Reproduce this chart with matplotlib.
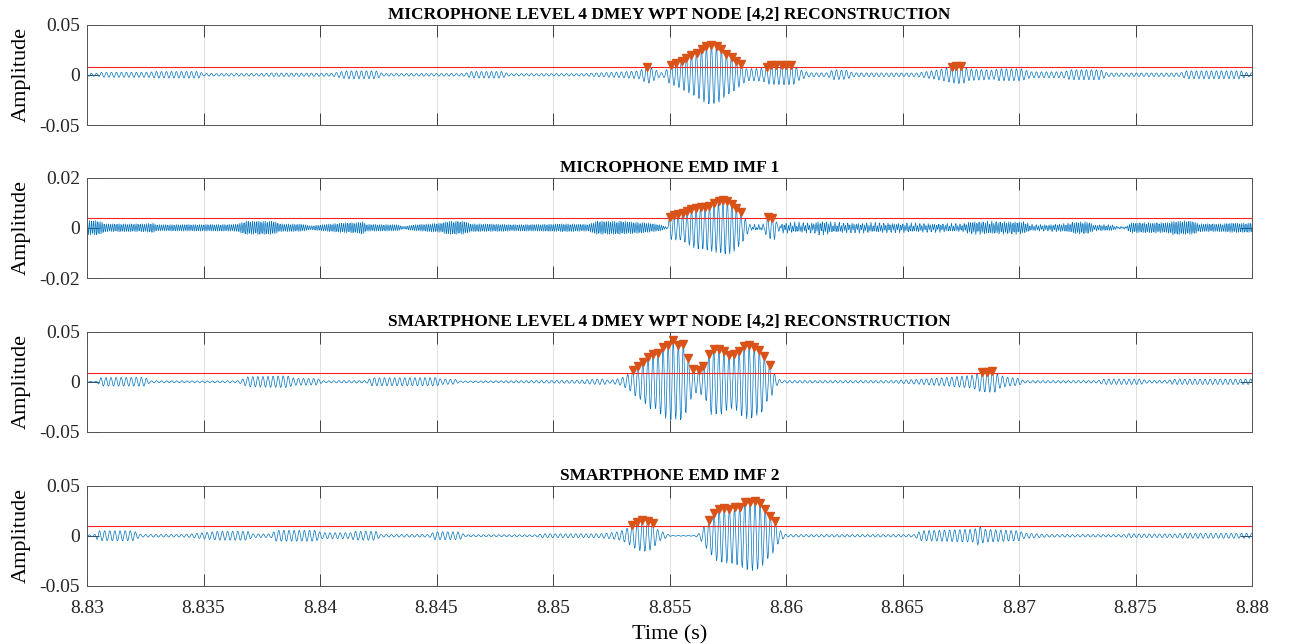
import numpy as np
import matplotlib
matplotlib.use("Agg")
import matplotlib.pyplot as plt

plt.rcParams["font.family"] = ["Liberation Serif", "DejaVu Serif"]

# ---------------- data ----------------
fs = 48000
t_start, t_end = 8.83, 8.88
x_ticks = [8.83, 8.835, 8.84, 8.845, 8.85, 8.855, 8.86, 8.865, 8.87, 8.875, 8.88]
x_tick_labels = ["8.83", "8.835", "8.84", "8.845", "8.85", "8.855", "8.86",
                 "8.865", "8.87", "8.875", "8.88"]

titles = ["MICROPHONE LEVEL 4 DMEY WPT NODE [4,2] RECONSTRUCTION",
          "MICROPHONE EMD IMF 1",
          "SMARTPHONE LEVEL 4 DMEY WPT NODE [4,2] RECONSTRUCTION",
          "SMARTPHONE EMD IMF 2"]
y_limits = [0.05, 0.02, 0.05, 0.05]
y_tick_labels = [["-0.05", "0", "0.05"], ["-0.02", "0", "0.02"],
                 ["-0.05", "0", "0.05"], ["-0.05", "0", "0.05"]]
thresholds = [0.0077, 0.0039, 0.0087, 0.0097]
carrier_hz = [4660, 5200, 4600, 4550]
crest_ref_t = [8.8568, 8.8571, 8.85516, 8.85845]

# Panel 1: microphone WPT reconstruction envelope (time s, amplitude)
mic_wpt_env_t = [8.8300, 8.8305, 8.8306, 8.8327, 8.8329, 8.8348, 8.8350, 8.8374,
                 8.8380, 8.8398, 8.8405, 8.8411, 8.8424, 8.8427, 8.8462, 8.8465,
                 8.8478, 8.8481, 8.8513, 8.8520, 8.8530, 8.8537, 8.85407, 8.8544,
                 8.8546, 8.8548, 8.85499, 8.85538, 8.85574, 8.85617, 8.8565,
                 8.8568, 8.8571, 8.8574, 8.8577, 8.8579, 8.8581, 8.8583, 8.8590,
                 8.8593, 8.8603, 8.8606, 8.8610, 8.8618, 8.8620, 8.8626, 8.8629,
                 8.8656, 8.8664, 8.8673, 8.8676, 8.8678, 8.8689, 8.8691, 8.8701,
                 8.8705, 8.8719, 8.8722, 8.8735, 8.8738, 8.8769, 8.8772, 8.8795,
                 8.8798, 8.8800]
mic_wpt_env_a = [0.0015, 0.0015, 0.0025, 0.0026, 0.0033, 0.0033, 0.0013, 0.0013,
                 0.0018, 0.0016, 0.0014, 0.0040, 0.0040, 0.0013, 0.0013, 0.0033,
                 0.0033, 0.0012, 0.0012, 0.0020, 0.0030, 0.0040, 0.0092, 0.0050,
                 0.0020, 0.0030, 0.0088, 0.0128, 0.0170, 0.0226, 0.0275,
                 0.0305, 0.0280, 0.0215, 0.0176, 0.0137, 0.0104, 0.0060, 0.0065,
                 0.0098, 0.0102, 0.0050, 0.0020, 0.0020, 0.0050, 0.0045, 0.0020,
                 0.0018, 0.0045, 0.0088, 0.0090, 0.0060, 0.0045, 0.0060, 0.0060,
                 0.0030, 0.0030, 0.0050, 0.0050, 0.0018, 0.0018, 0.0040, 0.0040,
                 0.0020, 0.0020]

# Panel 2: microphone EMD IMF 1, burst envelope and dense background envelope
mic_imf_burst_t = [8.8300, 8.8549, 8.8550, 8.8552, 8.8555, 8.8558, 8.8561, 8.8565,
                   8.8568, 8.8571, 8.8574, 8.8577, 8.8579, 8.8581, 8.8583, 8.8585,
                   8.8590, 8.8592, 8.8595, 8.8597, 8.8800]
mic_imf_burst_a = [0.0, 0.0, 0.0045, 0.0050, 0.0052, 0.0068, 0.0082, 0.0086,
                   0.0095, 0.0104, 0.0108, 0.0100, 0.0079, 0.0062, 0.0030, 0.0006,
                   0.0006, 0.0040, 0.0043, 0.0008, 0.0]
mic_imf_bg_hz = 11000
mic_imf_bg_t = [8.8300, 8.8305, 8.8308, 8.8325, 8.8328, 8.8330, 8.8364, 8.8368,
                8.8380, 8.8383, 8.8392, 8.8396, 8.8400, 8.8410, 8.8416, 8.8418,
                8.8420, 8.8433, 8.8436, 8.8440, 8.8452, 8.8455, 8.8462, 8.8465,
                8.8478, 8.8482, 8.8494, 8.8505, 8.8515, 8.8519, 8.8530, 8.8540,
                8.8546, 8.8548, 8.8549, 8.8584, 8.8586, 8.8591, 8.8597, 8.8599,
                8.8611, 8.8614, 8.8618, 8.8620, 8.8639, 8.8676, 8.8679, 8.8702,
                8.8705, 8.8712, 8.8721, 8.8724, 8.8730, 8.8732, 8.8740, 8.8742,
                8.8746, 8.8748, 8.8764, 8.8766, 8.8775, 8.8777, 8.8788, 8.8790,
                8.8800]
mic_imf_bg_a = [0.0029, 0.0029, 0.0016, 0.0016, 0.0020, 0.0013, 0.0014, 0.0027,
                0.0027, 0.0016, 0.0015, 0.0008, 0.0012, 0.0020, 0.0021, 0.0027,
                0.0014, 0.0013, 0.0005, 0.0012, 0.0019, 0.0027, 0.0026, 0.0016,
                0.0015, 0.0013, 0.0014, 0.0016, 0.0014, 0.0027, 0.0026, 0.0020,
                0.0013, 0.0006, 0.0003, 0.0003, 0.0008, 0.0007, 0.0005, 0.0016,
                0.0016, 0.0023, 0.0022, 0.0016, 0.0016, 0.0013, 0.0023, 0.0023,
                0.0011, 0.0011, 0.0016, 0.0023, 0.0023, 0.0011, 0.0011, 0.0004,
                0.0004, 0.0020, 0.0020, 0.0027, 0.0027, 0.0016, 0.0016, 0.0019,
                0.0019]

# Panel 3: smartphone WPT reconstruction envelope
phone_wpt_env_t = [8.8300, 8.8304, 8.8306, 8.8325, 8.8327, 8.8349, 8.8365, 8.8369,
                   8.8386, 8.8389, 8.8399, 8.8401, 8.8420, 8.8422, 8.8450, 8.8452,
                   8.8458, 8.8460, 8.8479, 8.8510, 8.8519, 8.8522, 8.8524, 8.8529,
                   8.8531, 8.85330, 8.85352, 8.85370, 8.85395, 8.85416, 8.8544,
                   8.8547, 8.8550, 8.85516, 8.8553, 8.85559, 8.8558, 8.8560,
                   8.8562, 8.8564, 8.8566, 8.85674, 8.8570, 8.85717, 8.8574,
                   8.85767, 8.8579, 8.8581, 8.8583, 8.85853, 8.8588, 8.8590,
                   8.8592, 8.85939, 8.8596, 8.8598, 8.8646, 8.8650, 8.8657,
                   8.8670, 8.8680, 8.8683, 8.86847, 8.86874, 8.86898, 8.8691,
                   8.8695, 8.8700, 8.8702, 8.8734, 8.8736, 8.8752, 8.8755,
                   8.8764, 8.8766, 8.8800]
phone_wpt_env_a = [0.0003, 0.0005, 0.0043, 0.0045, 0.0010, 0.0008, 0.0010, 0.0050,
                   0.0060, 0.0035, 0.0033, 0.0010, 0.0012, 0.0040, 0.0042, 0.0027,
                   0.0025, 0.0007, 0.0010, 0.0015, 0.0027, 0.0028, 0.0013, 0.0035,
                   0.0060, 0.0090, 0.0142, 0.0168, 0.0218, 0.0275, 0.0270,
                   0.0350, 0.0380, 0.0428, 0.0360, 0.0400, 0.0240, 0.0133,
                   0.0105, 0.0140, 0.0200, 0.0327, 0.0328, 0.0335, 0.0290,
                   0.0270, 0.0290, 0.0350, 0.0368, 0.0370, 0.0328, 0.0300,
                   0.0190, 0.0140, 0.0040, 0.0012, 0.0012, 0.0018, 0.0025,
                   0.0045, 0.0065, 0.0095, 0.0104, 0.0105, 0.0104, 0.0070,
                   0.0045, 0.0035, 0.0012, 0.0012, 0.0027, 0.0027, 0.0013,
                   0.0014, 0.0027, 0.0027]

# Panel 4: smartphone EMD IMF 2 envelope
phone_imf_env_t = [8.8300, 8.8303, 8.8305, 8.8320, 8.8323, 8.8340, 8.8343, 8.8356,
                   8.8369, 8.8371, 8.8379, 8.8381, 8.8398, 8.8401, 8.8413, 8.8415,
                   8.8424, 8.8426, 8.8447, 8.8449, 8.8460, 8.8462, 8.8493, 8.8495,
                   8.8505, 8.8520, 8.8528, 8.8531, 8.85352, 8.8537, 8.85395,
                   8.8541, 8.8543, 8.8545, 8.8548, 8.8550, 8.8561, 8.8563,
                   8.85645, 8.85667, 8.8569, 8.8571, 8.8573, 8.8576, 8.85781,
                   8.8580, 8.8582, 8.85845, 8.8587, 8.8589, 8.8591, 8.8593,
                   8.85953, 8.8597, 8.8600, 8.8655, 8.8658, 8.8681, 8.86828,
                   8.8685, 8.8700, 8.8702, 8.8712, 8.8745, 8.8747, 8.8750,
                   8.8767, 8.8770, 8.8800]
phone_imf_env_a = [0.0008, 0.0010, 0.0050, 0.0050, 0.0013, 0.0013, 0.0015, 0.0045,
                   0.0045, 0.0018, 0.0018, 0.0055, 0.0055, 0.0030, 0.0030, 0.0045,
                   0.0045, 0.0013, 0.0013, 0.0040, 0.0040, 0.0010, 0.0010, 0.0020,
                   0.0020, 0.0020, 0.0040, 0.0065, 0.0127, 0.0150, 0.0157,
                   0.0155, 0.0127, 0.0060, 0.0030, 0.0005, 0.0005, 0.0030,
                   0.0090, 0.0152, 0.0227, 0.0267, 0.0273, 0.0275, 0.0283,
                   0.0300, 0.0333, 0.0350, 0.0350, 0.0327, 0.0270, 0.0207,
                   0.0152, 0.0060, 0.0012, 0.0012, 0.0050, 0.0065, 0.0102,
                   0.0065, 0.0050, 0.0028, 0.0013, 0.0012, 0.0022, 0.0018,
                   0.0018, 0.0025, 0.0025]

env_t = [mic_wpt_env_t, mic_imf_burst_t, phone_wpt_env_t, phone_imf_env_t]
env_a = [mic_wpt_env_a, mic_imf_burst_a, phone_wpt_env_a, phone_imf_env_a]

# ---------------- build signals ----------------
t = t_start + np.arange(int(round((t_end - t_start) * fs)) + 1) / fs
signals = []
for i in range(4):
    env = np.interp(t, env_t[i], env_a[i])
    sig = env * np.cos(2 * np.pi * carrier_hz[i] * (t - crest_ref_t[i]))
    if i == 1:
        bg = np.interp(t, mic_imf_bg_t, mic_imf_bg_a)
        sig = sig + bg * np.sin(2 * np.pi * mic_imf_bg_hz * (t - t_start) + 0.7)
    signals.append(sig)


def find_peaks(y, thr):
    idx = np.where((y[1:-1] > y[:-2]) & (y[1:-1] >= y[2:]) & (y[1:-1] > thr))[0] + 1
    return idx


# ---------------- figure ----------------
fig = plt.figure(figsize=(12.89, 6.44), dpi=100)
left, width, height = 0.0675, 0.9038, 0.156
bottoms = [0.8059, 0.5683, 0.3292, 0.0901]

blue = "#0072BD"
orange = "#D95319"
axis_col = "#262626"

for i in range(4):
    ax = fig.add_axes([left, bottoms[i], width, height])
    y = signals[i]
    ax.plot(t, y, color=blue, lw=0.5)
    ax.axhline(thresholds[i], color="#FF2020", lw=0.8)
    pk = find_peaks(y, thresholds[i])
    ax.plot(t[pk], y[pk], linestyle="none", marker="v", markersize=5.5,
            color=orange, markeredgecolor=orange)
    lim = y_limits[i]
    ax.set_xlim(t_start, t_end)
    ax.set_ylim(-lim, lim)
    ax.set_xticks(x_ticks)
    ax.set_yticks([-lim, 0, lim])
    ax.set_yticklabels(y_tick_labels[i])
    if i == 3:
        ax.set_xticklabels(x_tick_labels)
        ax.set_xlabel("Time (s)", fontsize=16, labelpad=6)
    else:
        ax.set_xticklabels([])
    ax.tick_params(direction="in", length=8.5, width=0.6, top=True, right=True,
                   labelsize=14, colors=axis_col, pad=5)
    ax.tick_params(axis="x", pad=10)
    ax.xaxis.grid(True, color="#e0e0e0", lw=0.7)
    ax.set_axisbelow(True)
    for sp in ax.spines.values():
        sp.set_color("#555555")
        sp.set_linewidth(0.7)
    ax.set_ylabel("Amplitude", fontsize=16, labelpad=6)
    ax.set_title(titles[i], fontsize=12.5, fontweight="bold", pad=4)

fig.savefig("out.png", dpi=100)
